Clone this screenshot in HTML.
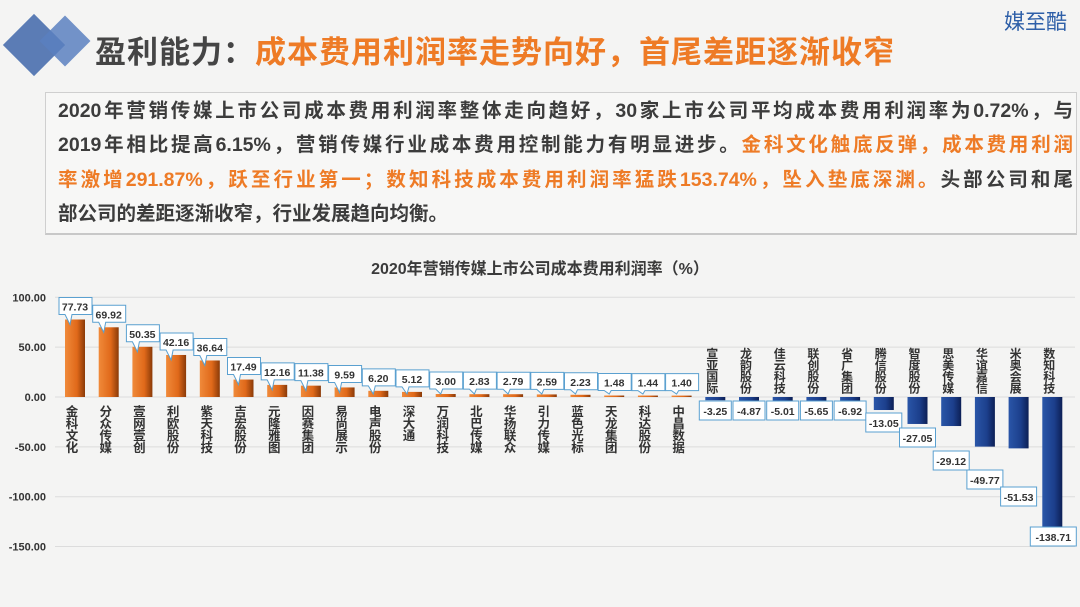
<!DOCTYPE html>
<html><head><meta charset="utf-8"><style>
body{margin:0;width:1080px;height:607px;overflow:hidden;background:#f4f4f3;font-family:"Liberation Sans","Noto Sans CJK SC",sans-serif;position:relative}
.t{position:absolute;left:95px;top:27px;font-size:31px;font-weight:bold;color:#454545;white-space:nowrap;letter-spacing:1px}
.t span{color:#ee7b26}
.box{position:absolute;left:45px;top:92px;width:1030px;height:140px;border:1px solid #cfcfcf;border-bottom:2px solid #c8c8c8;background:#f7f7f6}
.ln{position:absolute;left:58px;width:1015px;font-size:19.5px;font-weight:bold;color:#3c3c3c;white-space:nowrap;text-align:justify;text-align-last:justify;line-height:22px}
.o{color:#ee7b26}
.logo{position:absolute;left:1004px;top:6px;font-size:21px;color:#2e5fa8}
</style></head><body>
<svg style="position:absolute;left:0;top:0" width="100" height="100">
<rect x="12" y="23" width="44" height="44" fill="#4a6fae" transform="rotate(45 34 45)" opacity="0.9"/>
<rect x="47" y="23" width="36" height="36" fill="#5b80bf" transform="rotate(45 65 41)" opacity="0.85"/>
</svg>
<div class="t">盈利能力：<span>成本费用利润率走势向好，首尾差距逐渐收窄</span></div>
<div class="logo">媒至酷</div>
<div class="box"></div>
<div class="ln" style="top:100px">2020年营销传媒上市公司成本费用利润率整体走向趋好，30家上市公司平均成本费用利润率为0.72%，与</div>
<div class="ln" style="top:134px">2019年相比提高6.15%，营销传媒行业成本费用控制能力有明显进步。<span class="o">金科文化触底反弹，成本费用利润</span></div>
<div class="ln" style="top:169px"><span class="o">率激增291.87%，跃至行业第一；数知科技成本费用利润率猛跌153.74%，坠入垫底深渊。</span>头部公司和尾</div>
<div class="ln" style="top:203px;text-align-last:left">部公司的差距逐渐收窄，行业发展趋向均衡。</div>
<svg id="c" style="position:absolute;left:0;top:0" width="1080" height="607"></svg>
<script>
const names=["金科文化","分众传媒","壹网壹创","利欧股份","紫天科技","吉宏股份","元隆雅图","因赛集团","易尚展示","电声股份","深大通","万润科技","北巴传媒","华扬联众","引力传媒","蓝色光标","天龙集团","科达股份","中昌数据","宣亚国际","龙韵股份","佳云科技","联创股份","省广集团","腾信股份","智度股份","思美传媒","华谊嘉信","米奥会展","数知科技"];
const vals=[77.73,69.92,50.35,42.16,36.64,17.49,12.16,11.38,9.59,6.20,5.12,3.00,2.83,2.79,2.59,2.23,1.48,1.44,1.40,-3.25,-4.87,-5.01,-5.65,-6.92,-13.05,-27.05,-29.12,-49.77,-51.53,-138.71];
const negTop=[401,401,401,401,401,413,428,451,470,487,527];
const Y0=397,k=0.997;
let s=`<defs><linearGradient id="og" x1="0" x2="1"><stop offset="0" stop-color="#f08a3a"/><stop offset="0.6" stop-color="#e0691a"/><stop offset="1" stop-color="#8a3a08"/></linearGradient>
<linearGradient id="bg" x1="0" x2="1"><stop offset="0" stop-color="#2a56a8"/><stop offset="0.6" stop-color="#1c3f8c"/><stop offset="1" stop-color="#0c1f55"/></linearGradient></defs>`;
s+=`<text x="540" y="274" text-anchor="middle" font-size="16" font-weight="bold" fill="#3a3a3a">2020年营销传媒上市公司成本费用利润率（%）</text>`;
[100,50,0,-50,-100,-150].forEach(v=>{const y=Y0-v*k;
s+=`<line x1="55" x2="1075" y1="${y}" y2="${y}" stroke="#dcdcdc" stroke-width="1"/>`;
s+=`<text x="46" y="${y+4}" text-anchor="end" font-size="11" font-weight="bold" fill="#333">${v.toFixed(2)}</text>`;});
vals.forEach((v,i)=>{const c=75+33.7*i;const h=Math.abs(v)*k;
if(v>0){s+=`<rect x="${c-10}" y="${Y0-h}" width="20" height="${h}" fill="url(#og)"/>`;
 const bt=Y0-h-22;const bx=c-16;
 s+=`<path d="M${bx} ${bt}h33v17h-20l-2 ${Math.min(10,h+2)}l-5 -${Math.min(10,h+2)}h-6z" fill="#fff" stroke="#5aa0d0" stroke-width="1"/>`;
 s+=`<text x="${c}" y="${bt+13}" text-anchor="middle" font-size="10.5" fill="#333" font-weight="bold">${v.toFixed(2)}</text>`;
 [...names[i]].forEach((ch,j)=>{s+=`<text x="${c-3}" y="${416+j*12}" text-anchor="middle" font-size="12.5" font-weight="bold" fill="#333">${ch}</text>`;});
}else{s+=`<rect x="${c-10}" y="${Y0}" width="20" height="${h}" fill="url(#bg)"/>`;
 const bt=negTop[i-19];const w=v<-100?46:(v<-9.99?36:32);const bx=c-w/2-(v<-100?-1:0);
 s+=`<rect x="${bx}" y="${bt}" width="${w}" height="19" fill="#fff" stroke="#5aa0d0"/>`;
 s+=`<text x="${bx+w/2}" y="${bt+14}" text-anchor="middle" font-size="10.5" fill="#333" font-weight="bold">${v.toFixed(2)}</text>`;
 const ch=[...names[i]];ch.forEach((x,j)=>{s+=`<text x="${c-3}" y="${358+j*11.5}" text-anchor="middle" font-size="12" font-weight="bold" fill="#333">${x}</text>`;});
}});
document.getElementById('c').innerHTML=s;
</script>
</body></html>
